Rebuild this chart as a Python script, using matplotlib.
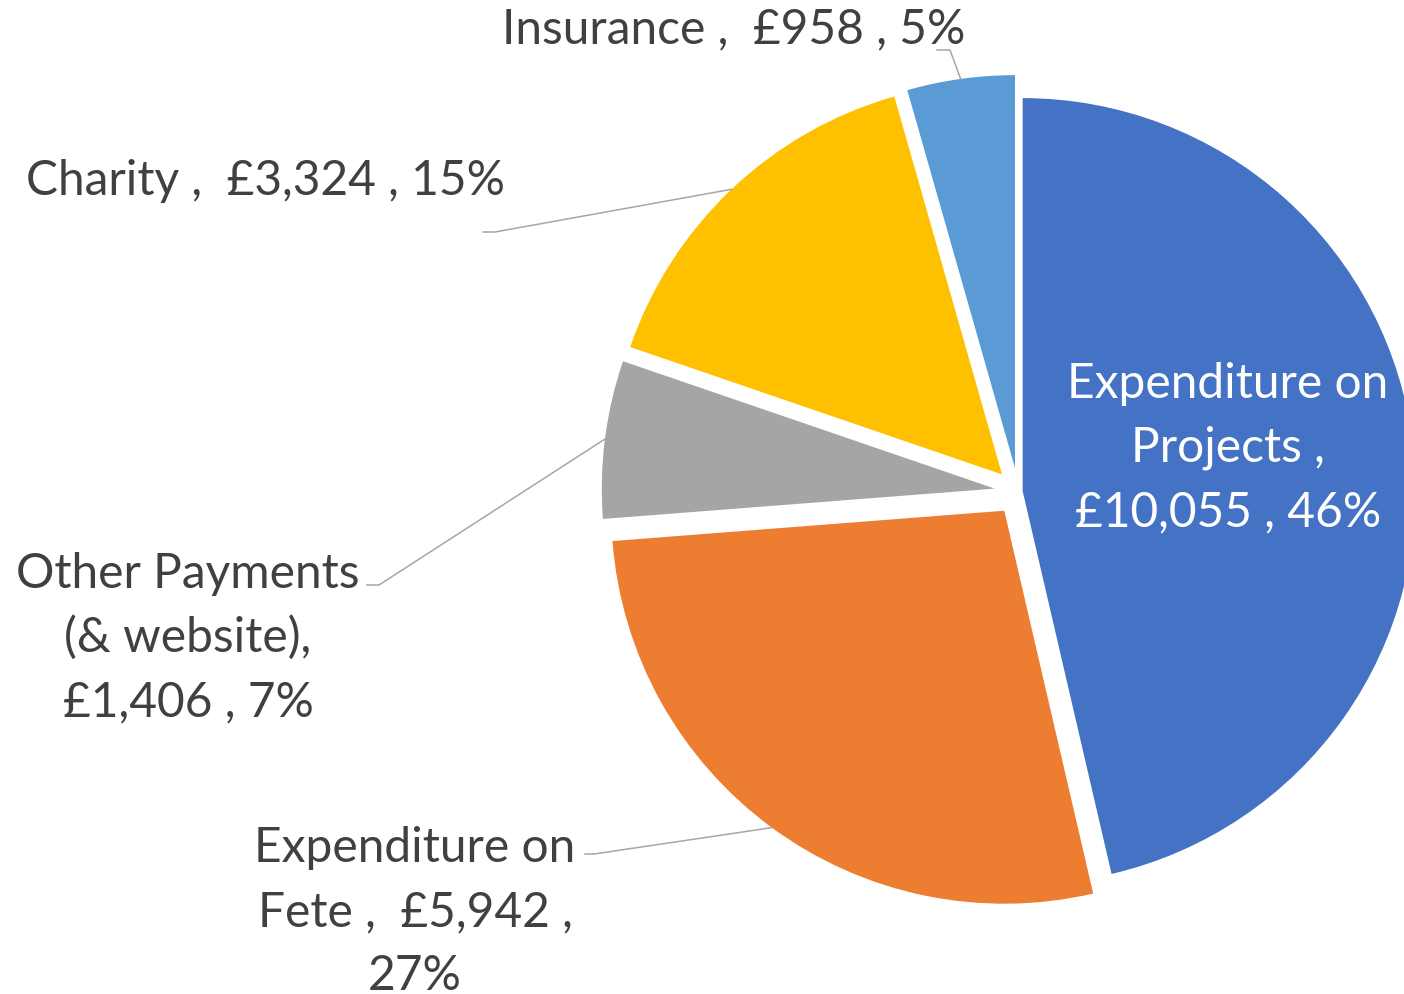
import numpy as np
import matplotlib
matplotlib.use('Agg')
import matplotlib.pyplot as plt

plt.rcParams['font.family'] = ['Lato', 'DejaVu Sans']

# data (clockwise from 12 o'clock)
categories = ['Expenditure on Projects', 'Expenditure on Fete',
              'Other Payments (& website)', 'Charity', 'Insurance']
amounts = [10055, 5942, 1406, 3324, 958]
labels = ['Expenditure on\nProjects ,\n£10,055 , 46%',
          'Expenditure on\nFete ,  £5,942 ,\n27%',
          'Other Payments\n(& website),\n£1,406 , 7%',
          'Charity ,  £3,324 , 15%',
          'Insurance ,  £958 , 5%']
colors = ['#4472C4', '#ED7D31', '#A5A5A5', '#FFC000', '#5B9BD5']

W, H = 1404, 995
fig = plt.figure(figsize=(W / 100, H / 100), dpi=100)
ax = fig.add_axes([0, 0, 1, 1])

# work in pixel units, y measured upward
R = 393
cx, cy = 1018.3, H - 492.6
explode = [4.4, 23.7, 23.7, 23.7, 23.7]

wedges, _ = ax.pie(amounts, colors=colors, startangle=90, counterclock=False,
                   radius=R, center=(cx, cy), explode=explode,
                   wedgeprops=dict(linewidth=0))
ax.set_xlim(0, W)
ax.set_ylim(0, H)
ax.axis('off')

# label layout: (x centre, first baseline) in image pixels, y down
text_pos = [(1228, 398), (415, 862), (188, 588), (265, 195), (734, 43)]
elbows = [None, (594, 855), (379, 586), (495, 233), (950, 51)]
ends = [None, (585, 855), (367, 586), (483, 233), (937, 51)]
line_gap = 64
fsize = 34.5

for i, w in enumerate(wedges):
    col = 'white' if i == 0 else '#404040'
    x0, y0 = text_pos[i]
    for k, line in enumerate(labels[i].split('\n')):
        ax.text(x0, H - (y0 + k * line_gap), line, ha='center', va='baseline',
                fontsize=fsize, color=col)
    if elbows[i] is None:
        continue
    tm = np.deg2rad((w.theta1 + w.theta2) / 2)
    ax0 = w.center[0] + w.r * np.cos(tm)
    ay0 = w.center[1] + w.r * np.sin(tm)
    ex, ey = elbows[i]
    fx, fy = ends[i]
    ax.plot([ax0, ex, fx], [ay0, H - ey, H - fy], color='#A6A6A6', lw=1.1,
            solid_joinstyle='miter')

fig.savefig('out.png', dpi=100)
